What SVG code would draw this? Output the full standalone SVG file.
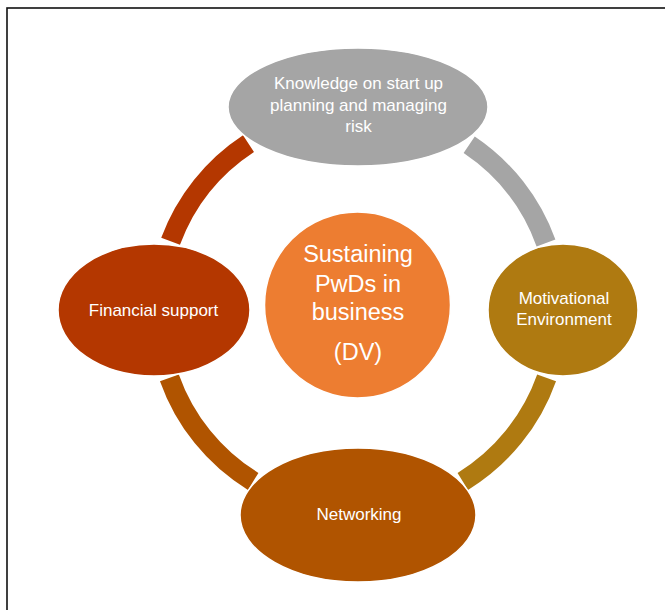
<svg xmlns="http://www.w3.org/2000/svg" width="665" height="610" viewBox="0 0 665 610">
  <defs>
    <style>
      .ring { fill: none; stroke-width: 20; stroke-linecap: butt; }
      .node { stroke: #FFFFFF; stroke-width: 1.5; }
      .label { font-family: "Liberation Sans", Arial, sans-serif; font-size: 17px; fill: #FFFFFF; text-anchor: middle; }
      .core { font-family: "Liberation Sans", Arial, sans-serif; font-size: 23.5px; fill: #FFFFFF; text-anchor: middle; }
    </style>
  </defs>

  <rect width="665" height="610" fill="#FFFFFF"/>
  <!-- frame -->
  <rect x="7" y="8" width="700" height="700" fill="none" stroke="#111111" stroke-width="1.6"/>

  <!-- ring segments between the outer nodes -->
  <g id="connectors">
    <path class="ring" stroke="#B43700" d="M 170.6 241.2 A 200 200 0 0 1 248.5 143.6"/>
    <path class="ring" stroke="#A5A5A5" d="M 469.2 144.8 A 200 200 0 0 1 546 243"/>
    <path class="ring" stroke="#AF7A11" d="M 546.6 377.8 A 200 200 0 0 1 462.8 481.4"/>
    <path class="ring" stroke="#B05400" d="M 253.2 481.4 A 200 200 0 0 1 169.4 377.8"/>
  </g>

  <g id="node-knowledge">
    <ellipse class="node" cx="358" cy="107" rx="130" ry="59" fill="#A5A5A5"/>
    <text class="label" x="358.5" y="89">Knowledge on start up</text>
    <text class="label" x="358.5" y="111">planning and managing</text>
    <text class="label" x="358.5" y="132">risk</text>
  </g>

  <g id="node-motivational">
    <ellipse class="node" cx="563" cy="310" rx="75" ry="66" fill="#AF7A11"/>
    <text class="label" x="564" y="304">Motivational</text>
    <text class="label" x="564" y="325">Environment</text>
  </g>

  <g id="node-networking">
    <ellipse class="node" cx="358" cy="515" rx="118" ry="67" fill="#B05400"/>
    <text class="label" x="359" y="520">Networking</text>
  </g>

  <g id="node-financial">
    <ellipse class="node" cx="154" cy="310" rx="96" ry="66" fill="#B43700"/>
    <text class="label" x="153.5" y="316">Financial support</text>
  </g>

  <g id="node-center">
    <circle class="node" cx="357.5" cy="305" r="93" fill="#ED7D31"/>
    <text class="core" x="358" y="262">Sustaining</text>
    <text class="core" x="358" y="292">PwDs in</text>
    <text class="core" x="358" y="320">business</text>
    <text class="core" x="358" y="360">(DV)</text>
  </g>
</svg>
